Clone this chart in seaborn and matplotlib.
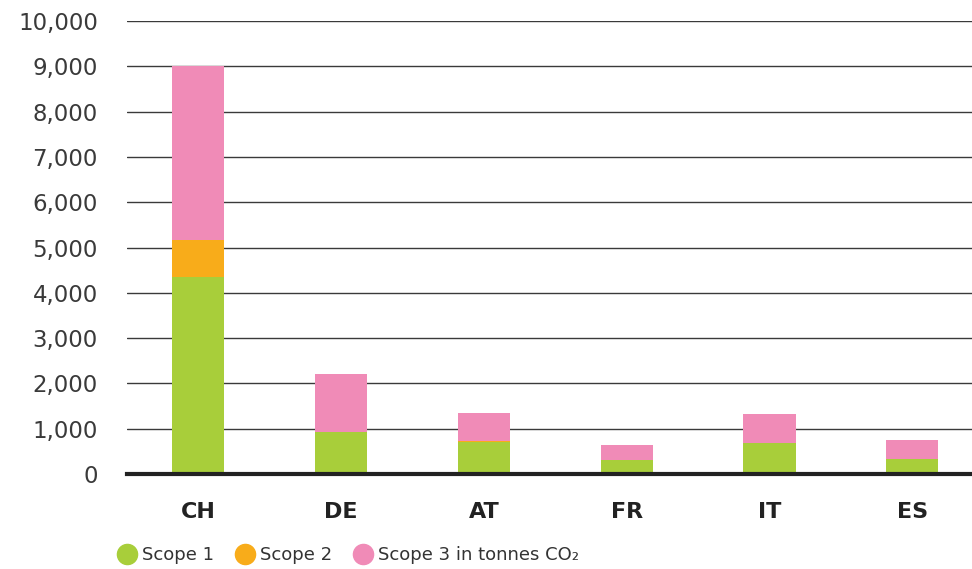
import matplotlib
matplotlib.use("Agg")
import matplotlib.pyplot as plt
from matplotlib.lines import Line2D
from matplotlib.ticker import FuncFormatter
import seaborn as sns
import pandas as pd

countries = ["CH", "DE", "AT", "FR", "IT", "ES"]
scope1 = [4340, 935, 700, 310, 680, 330]
scope2 = [830, 0, 25, 0, 0, 0]
scope3 = [3830, 1275, 630, 330, 645, 420]
legend_labels = ["Scope 1", "Scope 2", "Scope 3 in tonnes CO\u2082"]

green, orange, pink = "#A8CE3A", "#F8AC1A", "#F08BB7"

df = pd.DataFrame({"country": countries, "s1": scope1, "s2": scope2, "s3": scope3})
df["s12"] = df["s1"] + df["s2"]
df["total"] = df["s12"] + df["s3"]

sns.set_theme(style="white")
plt.rcParams["font.family"] = ["DejaVu Sans"]

fig = plt.figure(figsize=(9.72, 5.69), dpi=100)
ax = fig.add_axes([127 / 972, 1 - 474 / 569, 1 - 127 / 972 + 0.012, (474 - 21) / 569])

# stacked bars: draw cumulative totals from top layer down
for col, color in [("total", pink), ("s12", orange), ("s1", green)]:
    sns.barplot(data=df, x="country", y=col, color=color, width=0.365,
                saturation=1, ax=ax, zorder=3, linewidth=0)

ax.set_ylim(0, 10000)
ax.set_xlim(-0.5, len(countries) - 0.5)
ax.set_yticks(range(0, 10001, 1000))
ax.yaxis.set_major_formatter(FuncFormatter(lambda v, p: f"{int(v):,}"))
ax.grid(axis="y", color="#3a3a3a", linewidth=1.0, zorder=0)
ax.set_axisbelow(True)
for s in ["top", "right", "left"]:
    ax.spines[s].set_visible(False)
ax.spines["bottom"].set_color("#222222")
ax.spines["bottom"].set_linewidth(3)
ax.spines["bottom"].set_zorder(4)
ax.tick_params(axis="y", length=0, pad=21, labelsize=16.5, labelcolor="#3a3a3a")
ax.tick_params(axis="x", length=0, pad=20, labelsize=16, labelcolor="#222222")
for t in ax.get_xticklabels():
    t.set_fontweight("bold")
ax.set_xlabel("")
ax.set_ylabel("")

handles = [Line2D([], [], marker="o", linestyle="", markersize=14.5,
                  markerfacecolor=c, markeredgecolor=c) for c in (green, orange, pink)]
fig.legend(handles, legend_labels, loc="center left", bbox_to_anchor=(96 / 972, 1 - 555 / 569),
           ncol=3, frameon=False, fontsize=13, handletextpad=0.05, columnspacing=0.9,
           handlelength=1.6, labelcolor="#333333")

fig.savefig("out.png", dpi=100)
